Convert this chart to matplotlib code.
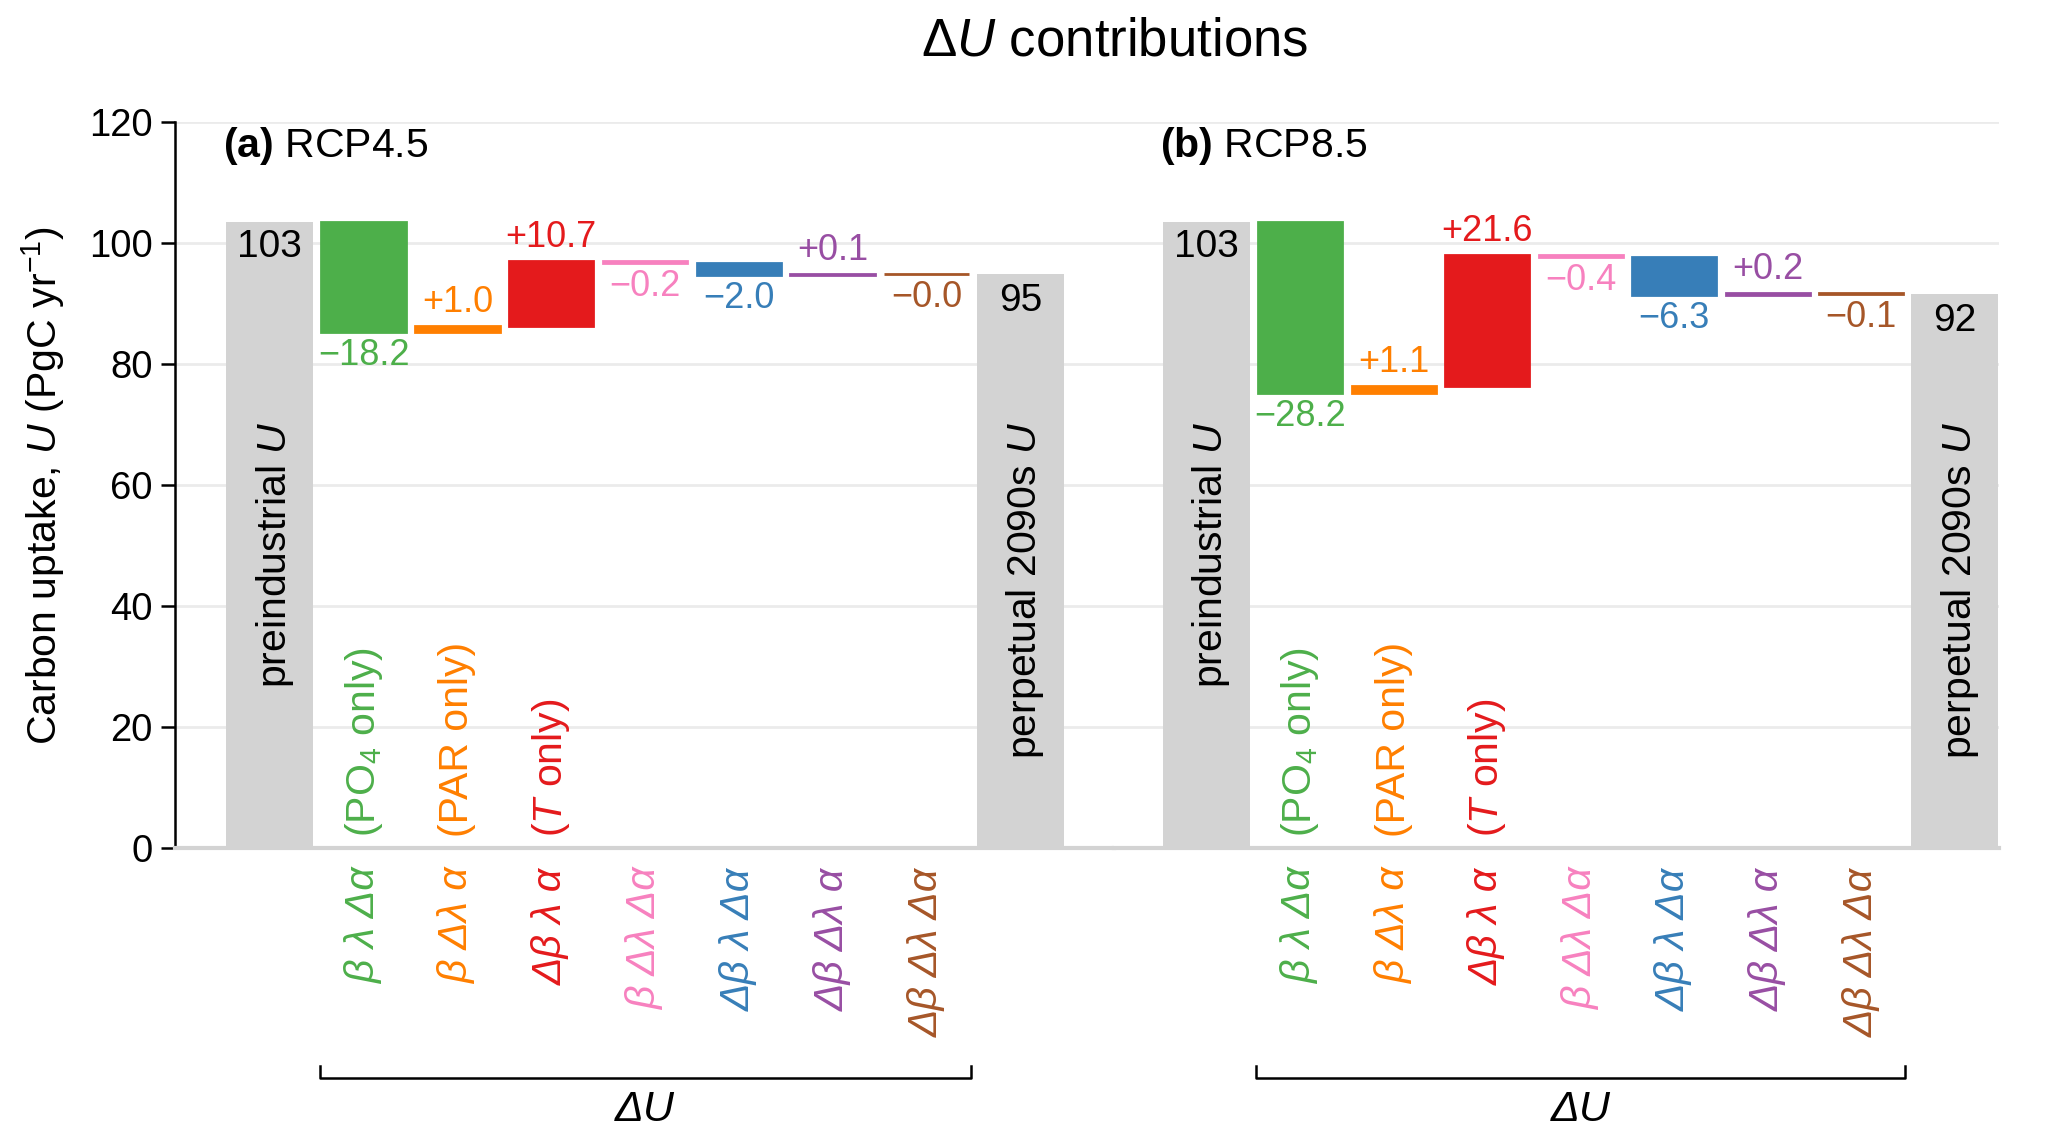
import numpy as np
import matplotlib
matplotlib.use('Agg')
from matplotlib import pyplot as plt
from matplotlib import transforms

plt.rcParams['font.family'] = ['Liberation Sans', 'DejaVu Sans']
plt.rcParams['mathtext.fontset'] = 'custom'
plt.rcParams['mathtext.rm'] = 'Liberation Sans'
plt.rcParams['mathtext.it'] = 'Liberation Sans:italic'
plt.rcParams['mathtext.bf'] = 'Liberation Sans:bold'
plt.rcParams['font.size'] = 29.5

# data
panels = ['RCP4.5', 'RCP8.5']
panel_tags = ['a', 'b']
preindustrial = [103.45, 103.45]
deltas_45 = [-18.2, 1.0, 10.7, -0.2, -2.0, 0.1, -0.04]
deltas_85 = [-28.17, 1.14, 21.63, -0.36, -6.26, 0.24, -0.06]
term_labels = ['β λ Δα', 'β Δλ α', 'Δβ λ α', 'β Δλ Δα',
               'Δβ λ Δα', 'Δβ Δλ α', 'Δβ Δλ Δα']
only_labels = ['(PO$_4$ only)', '(PAR only)', '($\\it{T}$ only)']
colors = ['#4daf4a', '#ff7f00', '#e41a1c', '#f781bf',
          '#377eb8', '#984ea3', '#a65628']
grey = '#d3d3d3'

fig = plt.figure(figsize=(20.67, 11.4), dpi=100)
ax_a = fig.add_axes([0.0847, 0.256, 0.539 - 0.0847, 0.637])
ax_b = fig.add_axes([0.539, 0.256, 0.967 - 0.539, 0.637])


def waterfall(ax, start, deltas, tag, name):
    n = len(deltas)
    w = 0.9
    end = start + sum(deltas)
    ax.bar(0, start, width=w + 0.03, color=grey, linewidth=0, zorder=2)
    ax.bar(n + 1, end, width=w + 0.03, color=grey, linewidth=0, zorder=2)
    ax.text(0, start - 1.2, f'{start:.0f}', ha='center', va='top',
            fontsize=28, zorder=3)
    ax.text(n + 1, end - 1.5, f'{end:.0f}', ha='center', va='top',
            fontsize=28, zorder=3)
    ax.text(0.05, 70.5, 'preindustrial $\\it{U}$', rotation=90,
            ha='center', va='top', zorder=3)
    ax.text(n + 1.05, 70.5, 'perpetual 2090s $\\it{U}$', rotation=90,
            ha='center', va='top', zorder=3)

    level = start
    for i, d in enumerate(deltas):
        x = i + 1
        ax.bar(x, d, bottom=level, width=w, color=colors[i],
               edgecolor=colors[i], linewidth=2, zorder=2)
        txt = f'{d:+.1f}'.replace('-', '\u2212')
        if d < 0:
            ax.text(x, level + d - 1.0, txt, color=colors[i], fontsize=26,
                    ha='center', va='top', zorder=3)
        else:
            ax.text(x, level + d + 1.0, txt, color=colors[i], fontsize=26,
                    ha='center', va='bottom', zorder=3)
        level += d

    for i, lab in enumerate(only_labels):
        ax.text(i + 1, 1.8, lab, color=colors[i], rotation=90,
                ha='center', va='bottom', zorder=3)

    ax.text(-0.5, 116, f'$\\bf{{({tag})}}$ {name}', ha='left', va='center')

    ax.set_xticks(np.arange(1, n + 1))
    ax.set_xticklabels(term_labels, rotation=90, style='italic')
    for lbl, c in zip(ax.get_xticklabels(), colors):
        lbl.set_color(c)
    ax.tick_params(axis='x', length=0, pad=14)

    # bracket under the contribution terms
    trans = transforms.blended_transform_factory(ax.transData, ax.transAxes)
    x0, x1 = 1 - w / 2 - 0.02, n + w / 2 + 0.02
    ax.plot([x0, x0, x1, x1], [-0.30, -0.317, -0.317, -0.30], color='black',
            lw=1.8, transform=trans, clip_on=False)
    ax.text((x0 + x1) / 2, -0.36, 'ΔU', style='italic', ha='center',
            va='center', fontsize=31, transform=trans)

    ax.set_ylim(0, 120)
    ax.set_yticks(np.arange(0, 121, 20))
    ax.grid(axis='y', color='#ebebeb', lw=2, zorder=0)
    ax.set_axisbelow(True)
    for s in ['top', 'right']:
        ax.spines[s].set_visible(False)
    ax.spines['bottom'].set_color(grey)
    ax.spines['bottom'].set_linewidth(3)


waterfall(ax_a, preindustrial[0], deltas_45, panel_tags[0], panels[0])
waterfall(ax_b, preindustrial[1], deltas_85, panel_tags[1], panels[1])

ax_a.set_xlim(-1.01, 9.0)
ax_b.set_xlim(-0.99, 8.47)

ax_a.spines['left'].set_linewidth(1.8)
ax_a.tick_params(axis='y', length=10, width=1.8, pad=6, labelsize=27.5)
ax_a.set_ylabel('Carbon uptake, $\\it{U}$ (PgC yr$^{-1}$)', labelpad=16)

ax_b.spines['left'].set_visible(False)
ax_b.tick_params(axis='y', length=0, labelleft=False)

fig.text(0.539, 0.964, 'Δ$\\it{U}$ contributions', ha='center', va='center',
         fontsize=38)

fig.savefig('out.png', dpi=100)
